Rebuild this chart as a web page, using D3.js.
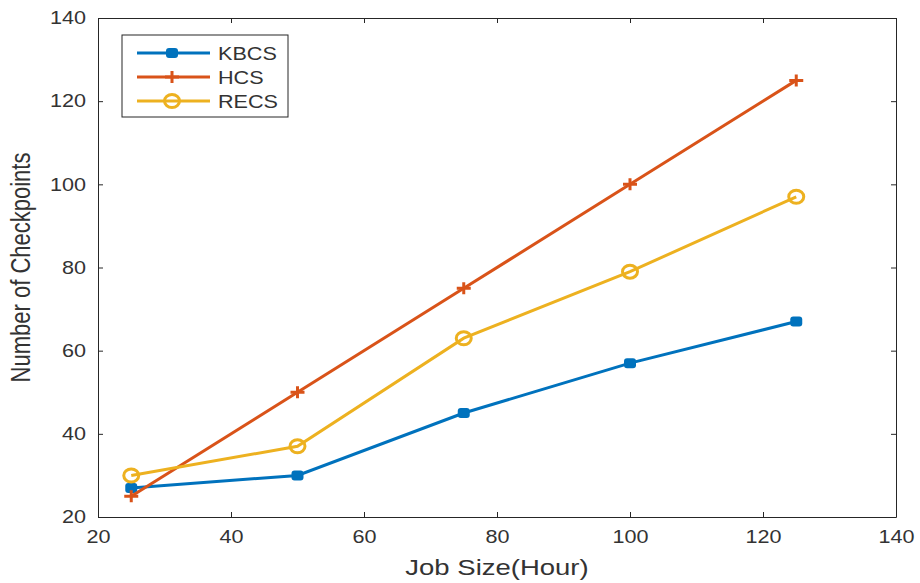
<!DOCTYPE html>
<html>
<head>
<meta charset="utf-8">
<script src="https://cdn.jsdelivr.net/npm/d3@7"></script>
<style>
  body { margin: 0; background: #fff; }
  text { font-family: "Liberation Sans", Arial, sans-serif; fill: #333; }
</style>
</head>
<body>
<div id="graph"></div>
<script>
// chart data
const jobSizes = [25, 50, 75, 100, 125];
const kbcs = [27, 30, 45, 57, 67];
const hcs = [25, 50, 75, 100, 125];
const recs = [30, 37, 63, 79, 97];
const seriesNames = ["KBCS", "HCS", "RECS"];
const xTicks = [20, 40, 60, 80, 100, 120, 140];
const yTicks = [20, 40, 60, 80, 100, 120, 140];

const w = 920, h = 583;
const mLeft = 98, mRight = 896, mTop = 18, mBottom = 517;
const colors = ["#0072BD", "#D95319", "#EDB120"];
const stretch = 1.2; // the source picture is a bit wider than tall

const svg = d3.select("#graph").append("svg")
  .attr("width", w).attr("height", h);

const x = d3.scaleLinear().domain([20, 140]).range([mLeft, mRight]);
const y = d3.scaleLinear().domain([20, 140]).range([mBottom, mTop]);

// axes with inward ticks
const axisStyle = g => {
  g.select(".domain").attr("stroke", "#262626").attr("stroke-width", 1);
  g.selectAll(".tick line").attr("stroke", "#262626");
  g.selectAll(".tick text").style("font-size", "18px").attr("fill", "#333");
};

svg.append("g").attr("transform", `translate(0,${mBottom})`)
  .call(d3.axisBottom(x).tickValues(xTicks).tickSize(-5).tickSizeOuter(0).tickPadding(13))
  .call(axisStyle)
  .selectAll(".tick text").attr("transform", `scale(${stretch},1)`);
svg.append("g").attr("transform", `translate(0,${mTop})`)
  .call(d3.axisTop(x).tickValues(xTicks).tickSize(-5).tickSizeOuter(0).tickFormat(""))
  .call(axisStyle);
svg.append("g").attr("transform", `translate(${mLeft},0)`)
  .call(d3.axisLeft(y).tickValues(yTicks).tickSize(-5).tickSizeOuter(0))
  .call(axisStyle)
  .selectAll(".tick text")
  .attr("x", -12 / stretch)
  .attr("transform", `scale(${stretch},1)`);
svg.append("g").attr("transform", `translate(${mRight},0)`)
  .call(d3.axisRight(y).tickValues(yTicks).tickSize(-5).tickSizeOuter(0).tickFormat(""))
  .call(axisStyle);

// axis titles
svg.append("text")
  .attr("transform", `translate(30,${(mTop + mBottom) / 2}) rotate(-90) scale(1,1.25)`)
  .attr("text-anchor", "middle")
  .style("font-size", "22px")
  .text("Number of Checkpoints");
svg.append("text")
  .attr("transform", `translate(${(mLeft + mRight) / 2},575) scale(1.25,1)`)
  .attr("text-anchor", "middle")
  .style("font-size", "22px")
  .text("Job Size(Hour)");

const series = [kbcs, hcs, recs];
const line = d3.line().x((d, i) => x(jobSizes[i])).y(d => y(d));

function marker(g, k, cx, cy) {
  if (k === 0) {
    g.append("rect").attr("x", cx - 6).attr("y", cy - 5).attr("width", 12).attr("height", 10)
      .attr("rx", 3).attr("fill", colors[0]);
  } else if (k === 1) {
    g.append("path").attr("d", `M${cx - 7},${cy}H${cx + 7}M${cx},${cy - 6}V${cy + 6}`)
      .attr("stroke", colors[1]).attr("stroke-width", 3);
  } else {
    g.append("ellipse").attr("cx", cx).attr("cy", cy).attr("rx", 7.5).attr("ry", 6.5)
      .attr("fill", "none").attr("stroke", colors[2]).attr("stroke-width", 3);
  }
}

series.forEach((vals, k) => {
  svg.append("path").datum(vals)
    .attr("d", line)
    .attr("fill", "none")
    .attr("stroke", colors[k])
    .attr("stroke-width", 3);
  const g = svg.append("g");
  vals.forEach((v, i) => marker(g, k, x(jobSizes[i]), y(v)));
});

// legend
const legend = svg.append("g");
legend.append("rect")
  .attr("x", 122).attr("y", 35).attr("width", 166).attr("height", 82)
  .attr("fill", "#fff").attr("stroke", "#262626").attr("stroke-width", 1);
seriesNames.forEach((name, k) => {
  const ly = 53 + k * 24;
  legend.append("line")
    .attr("x1", 137).attr("x2", 210).attr("y1", ly).attr("y2", ly)
    .attr("stroke", colors[k]).attr("stroke-width", 3);
  marker(legend, k, 172, ly);
  legend.append("text")
    .attr("transform", `translate(218,${ly + 6.5}) scale(${stretch},1)`)
    .style("font-size", "18px")
    .text(name);
});
</script>
</body>
</html>
